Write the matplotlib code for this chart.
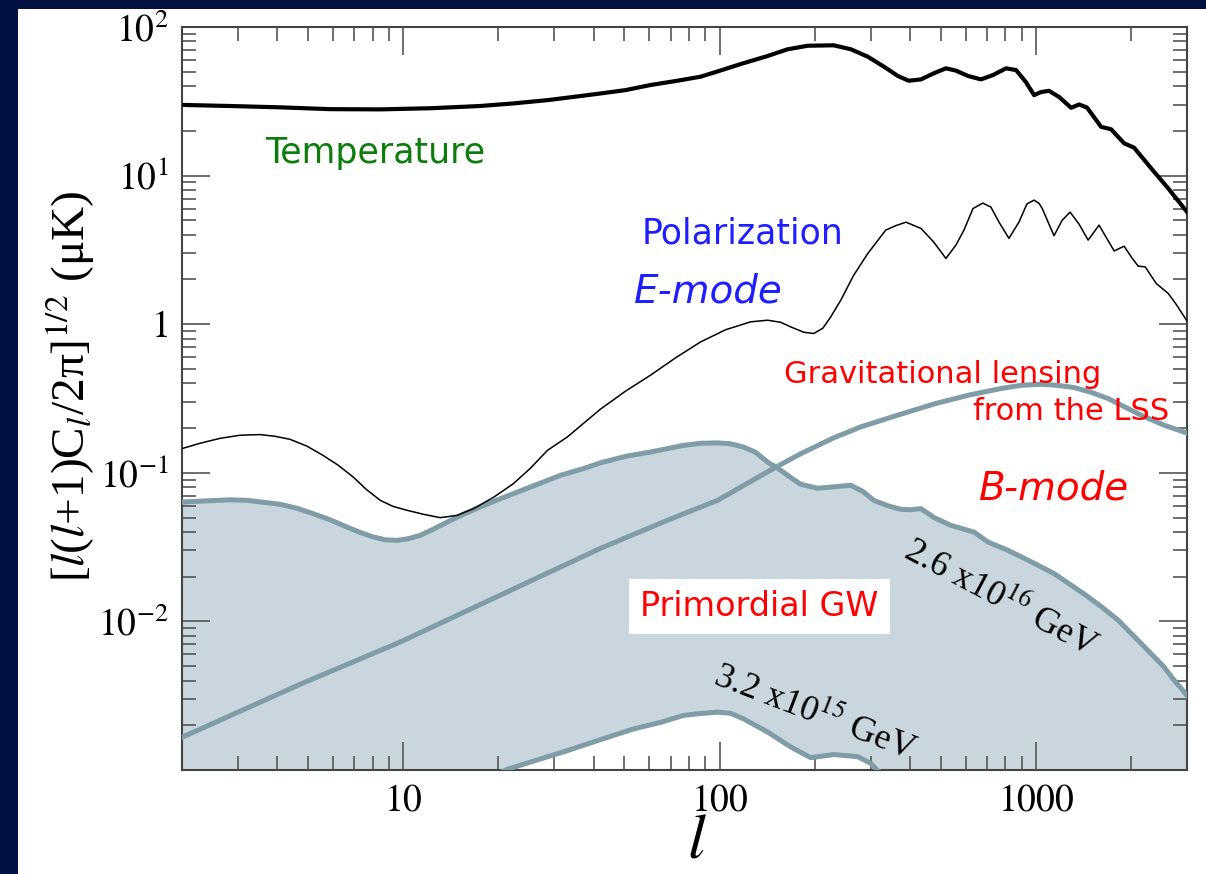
import numpy as np
import matplotlib.pyplot as plt
from matplotlib.patches import Rectangle
from matplotlib.ticker import FixedLocator, FixedFormatter, LogLocator, NullFormatter

plt.rcParams['mathtext.fontset'] = 'stix'
plt.rcParams['font.family'] = 'Liberation Serif'

# temperature spectrum
ell_tt = [2, 2.84, 4.08, 5.87, 8.46, 12.2, 17.5, 22.3, 28.6, 36.3, 42, 50.4, 60.5, 72.6, 87.1,
          99.3, 116.5, 141.8, 164, 190, 229.5, 260, 294, 330.5, 366, 396, 433, 475, 519, 558,
          610, 670, 731, 804, 865, 929, 986, 1037, 1099, 1183, 1291, 1368, 1449, 1606, 1727,
          1898, 2042, 2311, 2617, 3027]
tt = [29.9, 29.4, 28.8, 28.0, 27.9, 28.4, 29.4, 30.6, 32.2, 34.3, 35.7, 37.6, 40.7, 43.3, 46.3,
      50.5, 56.3, 63.8, 70.8, 74.8, 75.3, 70.8, 63.1, 54.1, 46.8, 43.5, 44.4, 48.8, 52.7, 50.9,
      46.8, 44.4, 47.5, 52.7, 51.3, 42.6, 34.8, 36.5, 37.2, 33.8, 28.6, 30.1, 28.7, 21.3, 20.5,
      16.5, 15.4, 11.2, 8.2, 5.56]

# E-mode polarization
ell_ee = [2, 2.28, 2.64, 3.05, 3.53, 3.94, 4.39, 4.97, 5.58, 6.23, 6.95, 7.64, 8.46, 9.29, 10.3,
          11.57, 13.1, 14.8, 16.7, 19.3, 22.3, 25.2, 28.6, 33.0, 42, 50.4, 60.5, 72.6, 87.1, 104.5,
          125.3, 141.8, 156, 167.8, 184.5, 198.4, 212, 224.5, 241.5, 265.5, 294, 335, 360, 388,
          433, 475, 519, 558, 592, 632, 679, 720, 764, 821, 883, 936, 986, 1022, 1045, 1099,
          1140, 1209, 1281, 1368, 1461, 1582, 1665, 1766, 1898, 2013, 2103, 2213, 2398, 2617,
          2773, 3027]
ee = [0.1455, 0.158, 0.1706, 0.179, 0.1808, 0.176, 0.168, 0.151, 0.131, 0.1125, 0.0937, 0.0774,
      0.0653, 0.0594, 0.0559, 0.0526, 0.0499, 0.0517, 0.0574, 0.0684, 0.0845, 0.107, 0.1418,
      0.174, 0.268, 0.354, 0.454, 0.594, 0.760, 0.918, 1.037, 1.064, 1.03, 0.959, 0.883, 0.866,
      0.94, 1.12, 1.45, 2.14, 2.99, 4.30, 4.60, 4.86, 4.41, 3.57, 2.77, 3.40, 4.30, 6.0, 6.53,
      6.14, 4.86, 3.78, 4.86, 6.45, 6.84, 6.5, 6.04, 4.71, 3.94, 5.0, 5.68, 4.71, 3.68, 4.64,
      3.85, 3.11, 3.35, 2.78, 2.46, 2.43, 1.88, 1.61, 1.36, 1.02]

# primordial B-mode, 2.6e16 GeV
ell_gw_hi = [2, 2.84, 3.21, 4.08, 4.62, 5.19, 5.87, 6.65, 7.31, 8.04, 8.77, 9.57, 10.37, 11.3,
             12.44, 13.8, 15.5, 17.5, 19.7, 22.3, 28.6, 31.4, 37.1, 42, 50.4, 60.5, 76.9, 87.1,
             98.6, 108.3, 119, 130, 141.8, 150.3, 159, 170, 180.3, 204, 219.6, 260, 283.5, 307,
             340, 374, 402, 433, 475, 538, 637, 705, 815, 944, 1140, 1419, 1606, 1817, 2042,
             2311, 2523, 2734, 2876, 3027]
gw_hi = [0.0636, 0.0658, 0.0653, 0.0614, 0.0577, 0.0531, 0.0483, 0.0431, 0.0397, 0.0370, 0.0354,
         0.0351, 0.0360, 0.0379, 0.0417, 0.0467, 0.0526, 0.0589, 0.0653, 0.0724, 0.0890, 0.0962,
         0.1067, 0.1167, 0.129, 0.138, 0.153, 0.158, 0.159, 0.1567, 0.149, 0.1374, 0.118, 0.1096,
         0.101, 0.0911, 0.0838, 0.0787, 0.0798, 0.0824, 0.075, 0.0653, 0.060, 0.0568, 0.0564,
         0.0574, 0.0501, 0.0443, 0.0399, 0.0342, 0.0301, 0.0258, 0.0210, 0.0153, 0.0126, 0.0102,
         0.00793, 0.00606, 0.00501, 0.00401, 0.00354, 0.00309]

# primordial B-mode, 3.2e15 GeV
ell_gw_lo = [19, 21.3, 33.0, 42, 53.5, 65, 76.9, 87.1, 98.6, 108.3, 119, 141.8, 167.8, 194,
             229.5, 273, 300, 316, 340]
gw_lo = [0.0009, 0.00101, 0.00135, 0.0016, 0.00189, 0.00209, 0.00233, 0.0024, 0.00245, 0.00241,
         0.00221, 0.0018, 0.00143, 0.00121, 0.00127, 0.00123, 0.00111, 0.00099, 0.0009]

# lensing B-mode
ell_lens = [2, 4.72, 9.78, 25.8, 42, 68.4, 98.6, 148, 180, 229.5, 280, 374, 480, 610, 774, 897,
            1037, 1164, 1319, 1493, 1690, 2149, 2541, 3027]
lens = [0.00166, 0.00377, 0.00726, 0.0191, 0.0310, 0.0479, 0.0653, 0.107, 0.134, 0.172, 0.204,
        0.248, 0.292, 0.3324, 0.369, 0.388, 0.394, 0.388, 0.375, 0.348, 0.316, 0.244, 0.209, 0.184]

ytick_vals = [1e-2, 1e-1, 1, 1e1, 1e2]
ytick_labels = ['$10^{-2}$', '$10^{-1}$', '$1$', '$10^{1}$', '$10^{2}$']
xtick_vals = [10, 100, 1000]
xtick_labels = ['$10$', '$100$', '$1000$']

fig = plt.figure(figsize=(12.06, 8.74), dpi=100, facecolor='#001040')
# white slide area inside the dark frame
fig.patches.append(Rectangle((18 / 1206, 0), 1, 1 - 9 / 874, transform=fig.transFigure,
                             facecolor='white', edgecolor='none', zorder=-10))
ax = fig.add_axes([182 / 1206, 1 - 770 / 874, 1005 / 1206, 743 / 874])
ax.set_xscale('log')
ax.set_yscale('log')

gw_line = '#7f9ca7'
ax.fill_between(ell_gw_hi, gw_hi, 1e-4, color='#cad6dd', lw=0, zorder=1)
ax.fill_between(ell_gw_lo, gw_lo, 1e-4, color='white', lw=0, zorder=1.5)
ax.plot(ell_gw_hi, gw_hi, color=gw_line, lw=3.6, zorder=3, solid_joinstyle='round')
ax.plot(ell_gw_lo, gw_lo, color=gw_line, lw=3.6, zorder=3, solid_joinstyle='round')
ax.plot(ell_lens, lens, color=gw_line, lw=3.6, zorder=3, solid_joinstyle='round')
ax.plot(ell_tt, tt, color='black', lw=3.0, zorder=4, solid_joinstyle='round')
ax.plot(ell_ee, ee, color='black', lw=1.1, zorder=4, solid_joinstyle='round')

ax.set_xlim(2, 3000)
ax.set_ylim(1e-3, 1e2)

ax.xaxis.set_major_locator(FixedLocator(xtick_vals))
ax.xaxis.set_major_formatter(FixedFormatter(xtick_labels))
ax.xaxis.set_minor_locator(LogLocator(base=10, subs=np.arange(2, 10), numticks=20))
ax.xaxis.set_minor_formatter(NullFormatter())
ax.yaxis.set_major_locator(FixedLocator(ytick_vals))
ax.yaxis.set_major_formatter(FixedFormatter(ytick_labels))
ax.yaxis.set_minor_locator(LogLocator(base=10, subs=np.arange(2, 10), numticks=20))
ax.yaxis.set_minor_formatter(NullFormatter())

ax.tick_params(which='both', direction='in', top=True, right=True, color='#555555')
ax.tick_params(which='major', length=20, width=1.2, labelsize=27, pad=10)
ax.tick_params(which='minor', length=10, width=1.2)
for s in ax.spines.values():
    s.set_color('#444444')
    s.set_linewidth(1.5)

ax.set_ylabel(r'[$l$($l$+1)C$_l$/2π]$^{1/2}$ (μK)', fontsize=34, va='center')
ax.yaxis.set_label_coords(-0.111, 0.517)
ax.set_xlabel(r'$l$', fontsize=46, va='center')
ax.xaxis.set_label_coords(0.512, -0.098)

sans = 'DejaVu Sans'
ax.text(8.15, 14.2, 'Temperature', color='#0a7d0a', fontsize=25, family=sans,
        ha='center', va='center')
ax.text(118.2, 4.10, 'Polarization', color='#1e1eff', fontsize=25, family=sans,
        ha='center', va='center')
ax.text(92.3, 1.67, 'E-mode', color='#1e1eff', fontsize=28, family=sans, style='italic',
        ha='center', va='center')
ax.text(159.4, 0.401, 'Gravitational lensing', color='red', fontsize=22, family=sans,
        ha='left', va='baseline')
ax.text(2636, 0.2257, 'from the LSS', color='red', fontsize=22, family=sans,
        ha='right', va='baseline')
ax.text(1140, 0.0787, 'B-mode', color='red', fontsize=28, family=sans, style='italic',
        ha='center', va='center')
ax.text(133.8, 0.01262, 'Primordial GW', color='red', fontsize=24, family=sans,
        ha='center', va='center', zorder=5,
        bbox=dict(facecolor='white', edgecolor='none', pad=8))
ax.text(774, 0.01429, r'2.6 x10$^{16}$ GeV', fontsize=26, rotation=-28,
        ha='center', va='center', rotation_mode='anchor', zorder=5)
ax.text(201, 0.00244, r'3.2 x10$^{15}$ GeV', fontsize=26, rotation=-21,
        ha='center', va='center', rotation_mode='anchor', zorder=5)

fig.savefig('out.png', dpi=100, facecolor=fig.get_facecolor())
